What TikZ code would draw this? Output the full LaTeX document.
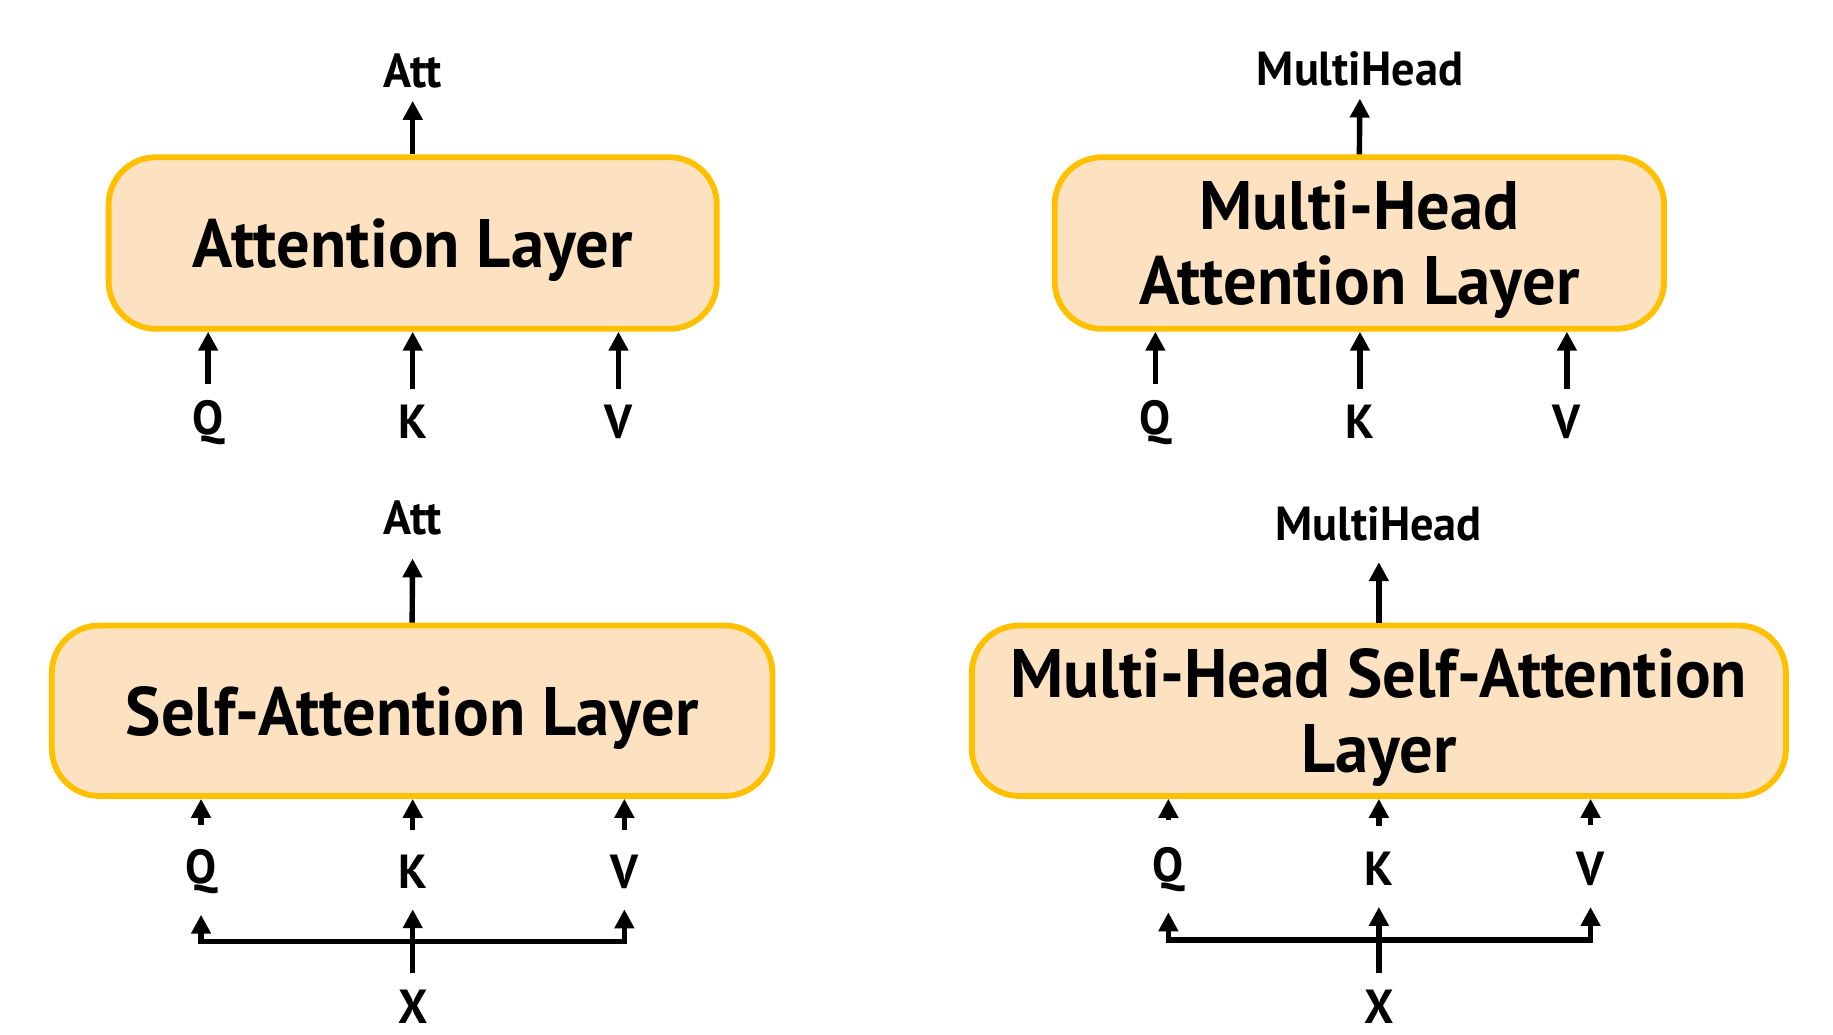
\documentclass[tikz,border=0pt]{standalone}
\usepackage{fontspec}
\setmainfont{PT Sans}[FakeStretch=0.97]
\usetikzlibrary{arrows.meta,positioning}
\definecolor{layerfill}{HTML}{FDE2C1}
\definecolor{layerline}{HTML}{FFC000}

\begin{document}
\begin{tikzpicture}[x=0.01cm,y=-0.01cm,
  layer/.style={draw=layerline,line width=1.4pt,fill=layerfill,rounded corners=0.4cm,
    align=center,inner sep=0pt,text depth=0pt,font=\bfseries\fontsize{16.5}{18}\selectfont},
  io/.style={inner sep=0pt,font=\bfseries\fontsize{11.5}{13}\selectfont},
  flow/.style={line width=1.3pt,-{Triangle[length=0.16cm,width=0.16cm]}}]
  \useasboundingbox (0,0) rectangle (1550,875);

  % Attention layer
  \node[layer,minimum width=5.14cm,minimum height=1.45cm] (al) at (349,205.5) {Attention Layer};
  \node[io] (al-o) at (349,60) {Att};
  \node[io] (al-q) at (176,357) {Q};
  \node[io] (al-k) at (349,357) {K};
  \node[io] (al-v) at (523,357) {V};
  \draw[flow,shorten >=0.1cm] (al.north) -- (al-o.south);
  \draw[flow,shorten <=0.13cm] (al-q.north) -- (al-q.north |- al.south);
  \draw[flow,shorten <=0.13cm] (al-k.north) -- (al-k.north |- al.south);
  \draw[flow,shorten <=0.13cm] (al-v.north) -- (al-v.north |- al.south);

  % Multi-head attention layer
  \node[layer,minimum width=5.15cm,minimum height=1.45cm] (ml) at (1149.5,205.5) {Multi-Head\\Attention Layer};
  \node[io] (ml-o) at (1150,58) {MultiHead};
  \node[io] (ml-q) at (977,357) {Q};
  \node[io] (ml-k) at (1150,357) {K};
  \node[io] (ml-v) at (1325,357) {V};
  \draw[flow,shorten >=0.1cm] (ml.north) -- (ml-o.south);
  \draw[flow,shorten <=0.13cm] (ml-q.north) -- (ml-q.north |- ml.south);
  \draw[flow,shorten <=0.13cm] (ml-k.north) -- (ml-k.north |- ml.south);
  \draw[flow,shorten <=0.13cm] (ml-v.north) -- (ml-v.north |- ml.south);

  % Self-attention layer, Q K V all from X
  \node[layer,minimum width=6.09cm,minimum height=1.44cm] (sa) at (348.5,601) {Self-Attention Layer};
  \node[io] (sa-o) at (349,438) {Att};
  \node[io] (sa-q) at (170,737) {Q};
  \node[io] (sa-k) at (349,737) {K};
  \node[io] (sa-v) at (528,737) {V};
  \node[io] (sa-x) at (349,851) {X};
  \coordinate (sa-b) at (349,796);
  \draw[flow,shorten >=0.19cm] (sa.north) -- (sa-o.south);
  \draw[flow,shorten <=0.2cm] (sa-q.north) -- (sa-q.north |- sa.south);
  \draw[flow,shorten <=0.2cm] (sa-k.north) -- (sa-k.north |- sa.south);
  \draw[flow,shorten <=0.2cm] (sa-v.north) -- (sa-v.north |- sa.south);
  \draw[flow,shorten <=0.13cm,shorten >=0.17cm] (sa-x.north) -- (sa-k.south);
  \draw[flow,shorten >=0.17cm] (sa-b) -| (sa-q.south);
  \draw[flow,shorten >=0.17cm] (sa-b) -| (sa-v.south);

  % Multi-head self-attention layer, Q K V all from X
  \node[layer,minimum width=6.88cm,minimum height=1.44cm] (ms) at (1166,601) {Multi-Head Self-Attention\\Layer};
  \node[io] (ms-o) at (1166,443) {MultiHead};
  \node[io] (ms-q) at (988,735) {Q};
  \node[io] (ms-k) at (1166,735) {K};
  \node[io] (ms-v) at (1345,735) {V};
  \node[io] (ms-x) at (1166,851) {X};
  \coordinate (ms-b) at (1166,795);
  \draw[flow,shorten >=0.17cm] (ms.north) -- (ms-o.south);
  \draw[flow,shorten <=0.22cm] (ms-q.north) -- (ms-q.north |- ms.south);
  \draw[flow,shorten <=0.22cm] (ms-k.north) -- (ms-k.north |- ms.south);
  \draw[flow,shorten <=0.22cm] (ms-v.north) -- (ms-v.north |- ms.south);
  \draw[flow,shorten <=0.13cm,shorten >=0.17cm] (ms-x.north) -- (ms-k.south);
  \draw[flow,shorten >=0.17cm] (ms-b) -| (ms-q.south);
  \draw[flow,shorten >=0.17cm] (ms-b) -| (ms-v.south);
\end{tikzpicture}
\end{document}
